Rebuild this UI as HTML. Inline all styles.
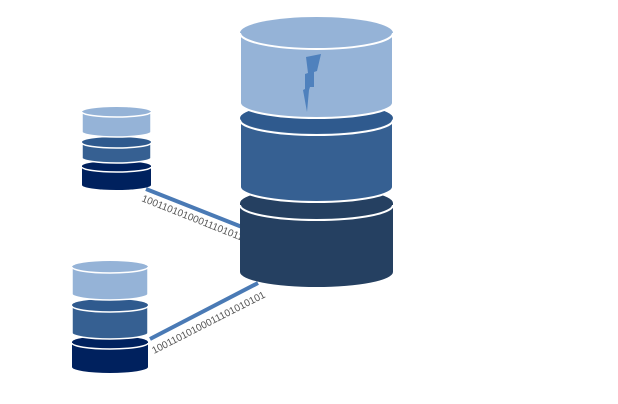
<!DOCTYPE html>
<html><head><style>html,body{margin:0;padding:0;background:#fff;}svg{display:block}</style></head>
<body>
<svg width="618" height="404" viewBox="0 0 618 404" xmlns="http://www.w3.org/2000/svg" font-family="Liberation Sans, sans-serif">
<line x1="146" y1="189" x2="242" y2="227" stroke="#4a7ab5" stroke-width="4"/>
<line x1="150" y1="339" x2="258" y2="283" stroke="#4a7ab5" stroke-width="4"/>
<text x="141" y="201" font-size="10" fill="#555" transform="rotate(21.6 141 201)">10011010100011101011</text>
<text x="154" y="354" font-size="10" fill="#555" transform="rotate(-27 154 354)">10011010100011101010101</text>

<!-- big cylinder -->
<g>
<path d="M240 203 L240 272 A76.5 15 0 0 0 393 272 L393 203 Z" fill="#254061"/>
<ellipse cx="316.5" cy="203" rx="76.5" ry="15" fill="#254061"/>
<path d="M240 205 A76.5 15 0 0 0 393 205" fill="none" stroke="#fff" stroke-width="2"/>
<path d="M240 118 L240 187 A76.5 15 0 0 0 393 187 L393 118 Z" fill="#366092" stroke="#fff" stroke-width="2"/>
<ellipse cx="316.5" cy="118" rx="76.5" ry="15" fill="#2f5a8e"/>
<path d="M240 120 A76.5 15 0 0 0 393 120" fill="none" stroke="#fff" stroke-width="2"/>
<path d="M240 33 L240 103 A76.5 15 0 0 0 393 103 L393 33 Z" fill="#95b3d7" stroke="#fff" stroke-width="2"/>
<ellipse cx="316.5" cy="33" rx="76.5" ry="16" fill="#95b3d7"/>
<path d="M240 33 A76.5 16 0 0 0 393 33" fill="none" stroke="#fff" stroke-width="2"/>
<polygon points="306,57 321,54 317,71 314,72 314,87 310,87 309,90 307,112 303,90 305,89 305,74 308,73" fill="#4f81bd"/>
</g>

<!-- small top cylinder -->
<g>
<path d="M82 166 L82 185 A34.5 5 0 0 0 151 185 L151 166 Z" fill="#00215e"/>
<ellipse cx="116.5" cy="166" rx="34.5" ry="5" fill="#00215e"/>
<path d="M82 167 A34.5 5 0 0 0 151 167" fill="none" stroke="#fff" stroke-width="1.5"/>
<path d="M82 142 L82 158 A34.5 5 0 0 0 151 158 L151 142 Z" fill="#366092" stroke="#fff" stroke-width="1.5"/>
<ellipse cx="116.5" cy="142" rx="34.5" ry="5" fill="#2f5a8e"/>
<path d="M82 143 A34.5 5 0 0 0 151 143" fill="none" stroke="#fff" stroke-width="1.5"/>
<path d="M82 112 L82 132 A34.5 5 0 0 0 151 132 L151 112 Z" fill="#95b3d7" stroke="#fff" stroke-width="1.5"/>
<ellipse cx="116.5" cy="112" rx="34.5" ry="5" fill="#95b3d7"/>
<path d="M82 112 A34.5 5 0 0 0 151 112" fill="none" stroke="#fff" stroke-width="1.5"/>
</g>

<!-- small bottom cylinder -->
<g>
<path d="M72 342 L72 367 A38 6 0 0 0 148 367 L148 342 Z" fill="#00215e"/>
<ellipse cx="110" cy="342" rx="38" ry="6" fill="#00215e"/>
<path d="M72 343 A38 6 0 0 0 148 343" fill="none" stroke="#fff" stroke-width="1.5"/>
<path d="M72 305 L72 333 A38 6 0 0 0 148 333 L148 305 Z" fill="#366092" stroke="#fff" stroke-width="1.5"/>
<ellipse cx="110" cy="305" rx="38" ry="6" fill="#2f5a8e"/>
<path d="M72 306 A38 6 0 0 0 148 306" fill="none" stroke="#fff" stroke-width="1.5"/>
<path d="M72 267 L72 294 A38 6 0 0 0 148 294 L148 267 Z" fill="#95b3d7" stroke="#fff" stroke-width="1.5"/>
<ellipse cx="110" cy="267" rx="38" ry="6" fill="#95b3d7"/>
<path d="M72 267 A38 6 0 0 0 148 267" fill="none" stroke="#fff" stroke-width="1.5"/>
</g>
</svg>
</body></html>
